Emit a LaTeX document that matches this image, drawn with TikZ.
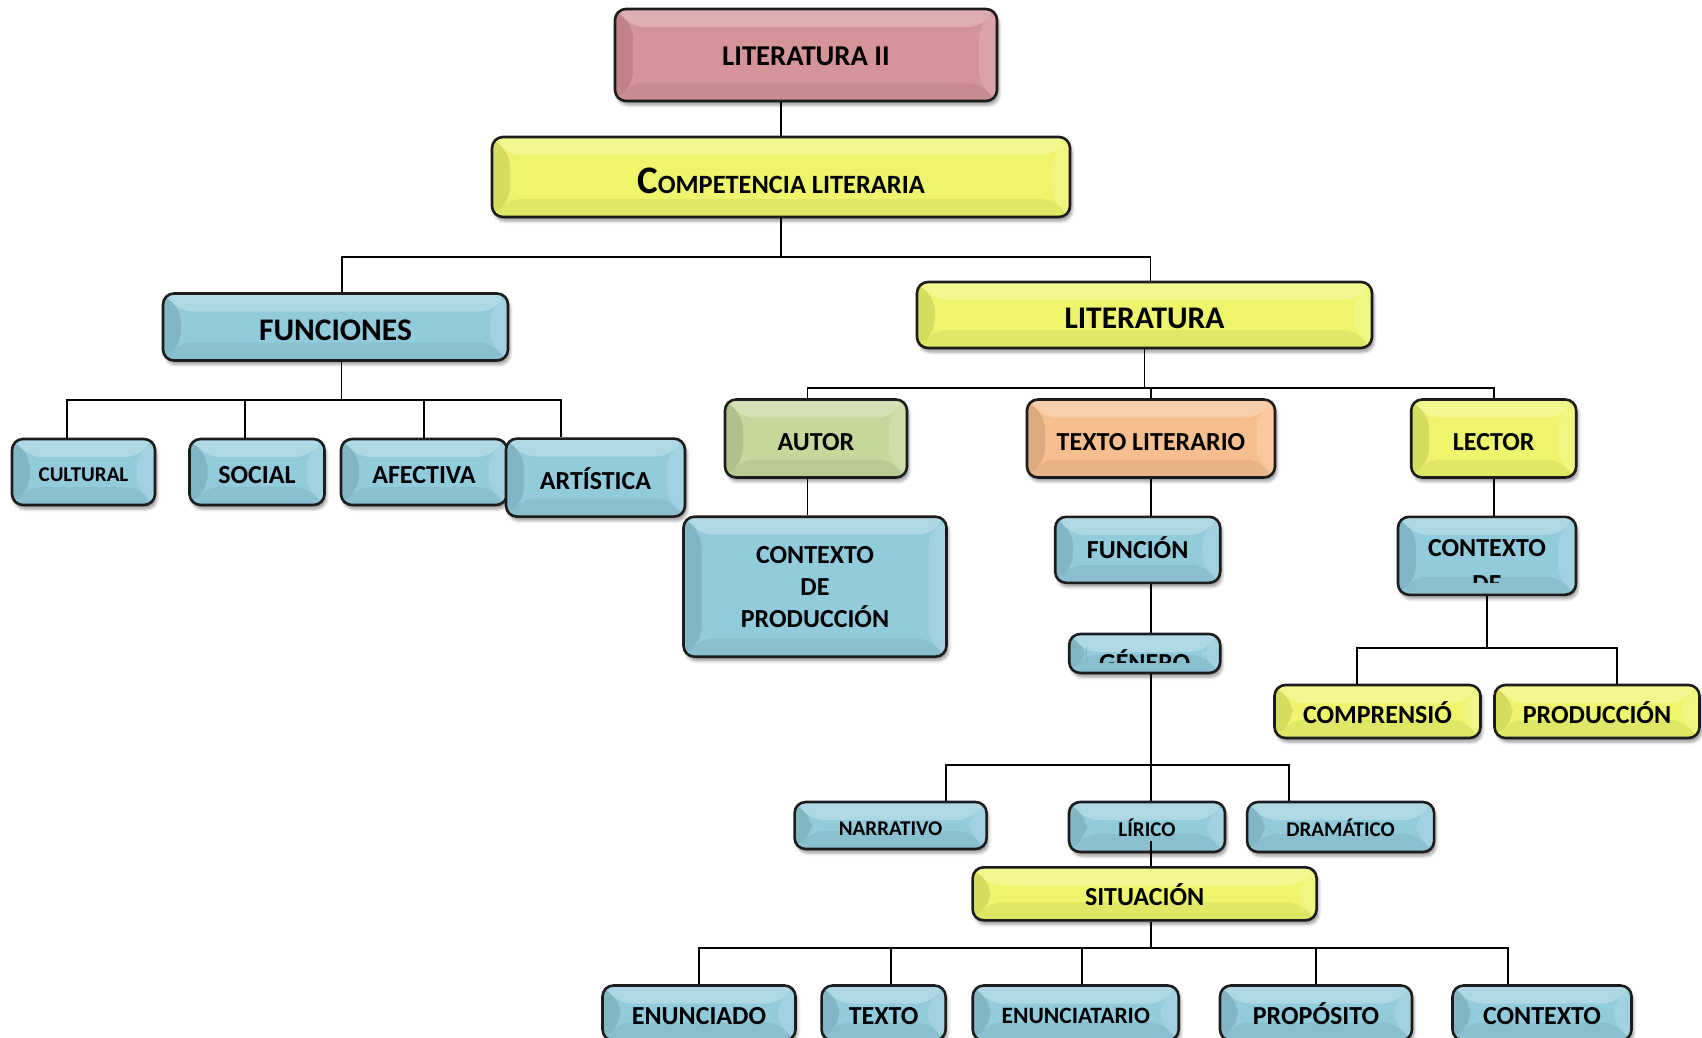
\documentclass[tikz,border=0pt]{standalone}
\usepackage{fontspec}
\setmainfont{Carlito}
\usepackage{tikz}
\usetikzlibrary{shadows.blur}
\definecolor{BoxBlue}{HTML}{92CBDC}
\definecolor{BoxYellow}{HTML}{EEF56C}
\definecolor{BoxPink}{HTML}{D59498}
\definecolor{BoxGreen}{HTML}{C6D89C}
\definecolor{BoxOrange}{HTML}{F7BF8F}
\definecolor{Outline}{HTML}{1C1C1C}

\begin{document}
\begin{tikzpicture}[x=1pt,y=-1pt,
    bevel/.style={path picture={
        \path (path picture bounding box.north west) coordinate (bnw)
              (path picture bounding box.north east) coordinate (bne)
              (path picture bounding box.south west) coordinate (bsw)
              (path picture bounding box.south east) coordinate (bse);
        \fill[white,opacity=.25] (bnw) -- (bne) -- ([shift={(-18pt,-18pt)}]bne) -- ([shift={(18pt,-18pt)}]bnw) -- cycle;
        \fill[black,opacity=.10] (bnw) -- (bsw) -- ([shift={(18pt,18pt)}]bsw) -- ([shift={(18pt,-18pt)}]bnw) -- cycle;
        \fill[black,opacity=.06] (bsw) -- (bse) -- ([shift={(-18pt,18pt)}]bse) -- ([shift={(18pt,18pt)}]bsw) -- cycle;
        \fill[white,opacity=.15] (bne) -- (bse) -- ([shift={(-18pt,18pt)}]bse) -- ([shift={(-18pt,-18pt)}]bne) -- cycle;
    }},
    shell/.style={draw=Outline, line width=2.6pt, rounded corners=11pt, inner sep=0pt, align=center,
        blur shadow={shadow xshift=2pt, shadow yshift=-4pt, shadow blur radius=3pt, shadow opacity=40},
        bevel, font=\bfseries\fontsize{26}{32}\selectfont},
    box/.style={shell, text height=23pt, text depth=0pt},
    bluebox/.style={box, fill=BoxBlue},
    yellowbox/.style={box, fill=BoxYellow},
    pinkbox/.style={box, fill=BoxPink},
    greenbox/.style={box, fill=BoxGreen},
    orangebox/.style={box, fill=BoxOrange},
    bigtext/.style={font=\bfseries\fontsize{31.5}{36}\selectfont, text height=27pt},
    smalltext/.style={font=\bfseries\fontsize{21}{25}\selectfont, text height=19pt},
    boxtext/.style={inner sep=0pt, anchor=base, font=\bfseries\fontsize{26}{32}\selectfont},
    link/.style={draw=black, line width=1.8pt}]

    \clip (0,0) rectangle (1702,1038);

    \node[pinkbox, minimum width=382pt, minimum height=92pt, font=\bfseries\fontsize{28.7}{33}\selectfont, text height=21pt] (lit2) at (806,55) {LITERATURA II};
    \node[yellowbox, minimum width=578pt, minimum height=80pt, text height=33pt] (comp) at (781,177) {{\fontsize{39}{40}\selectfont C}\fontsize{26.4}{30}\selectfont OMPETENCIA LITERARIA};
    \node[bluebox, bigtext, minimum width=345pt, minimum height=67pt] (funciones) at (335.5,327) {FUNCIONES};
    \node[yellowbox, bigtext, minimum width=455pt, minimum height=66pt] (literatura) at (1144.5,315) {LITERATURA};

    \node[bluebox, smalltext, minimum width=143pt, minimum height=66pt] (cultural) at (83.5,472) {CULTURAL};
    \node[bluebox, minimum width=135pt, minimum height=66pt] (social) at (257,472) {SOCIAL};
    \node[bluebox, minimum width=166pt, minimum height=66pt] (afectiva) at (424,472) {AFECTIVA};
    \node[bluebox, minimum width=179pt, minimum height=78pt] (artistica) at (595.5,477.6) {ARTÍSTICA};

    \node[greenbox, minimum width=182pt, minimum height=78pt] (autor) at (816,438.5) {AUTOR};
    \node[orangebox, minimum width=248pt, minimum height=78pt] (textolit) at (1151,438.5) {TEXTO LITERARIO};
    \node[yellowbox, minimum width=165pt, minimum height=78pt] (lector) at (1493.7,438.5) {LECTOR};

    \node[shell, fill=BoxBlue, minimum width=263pt, minimum height=140pt] (ctxprod) at (815,586.7) {CONTEXTO\\DE\\PRODUCCIÓN};
    \node[bluebox, minimum width=165pt, minimum height=66pt, text height=18pt] (funcion) at (1137.7,549.8) {FUNCIÓN};
    \node[bluebox, minimum width=178pt, minimum height=78pt] (ctxde) at (1487,555.8) {};
    \begin{scope}
        \clip ([yshift=14pt]ctxde.south west) rectangle (ctxde.north east);
        \node[boxtext] (ctxdeA) at (1487,556.7) {CONTEXTO};
        \node[boxtext] (ctxdeB) at (1487,592.7) {DE};
    \end{scope}
    \node[bluebox, minimum width=151pt, minimum height=39pt] (genero) at (1144.7,653.5) {};
    \begin{scope}
        \clip ([yshift=12pt]genero.south west) rectangle (genero.north east);
        \node[boxtext] (generotext) at (1144.7,671.7) {GÉNERO};
    \end{scope}

    \node[yellowbox, minimum width=206pt, minimum height=53pt] (comprensio) at (1377.5,711.5) {COMPRENSIÓ};
    \node[yellowbox, minimum width=205pt, minimum height=53pt] (produccion) at (1597,711.5) {PRODUCCIÓN};

    \node[bluebox, smalltext, minimum width=192pt, minimum height=47pt] (narrativo) at (890.6,825.5) {NARRATIVO};
    \node[bluebox, smalltext, minimum width=156pt, minimum height=50pt] (lirico) at (1147,827) {LÍRICO};
    \node[bluebox, smalltext, minimum width=187pt, minimum height=50pt] (dramatico) at (1340.6,827) {DRAMÁTICO};
    \node[yellowbox, minimum width=344pt, minimum height=53pt] (situacion) at (1144.6,893.8) {SITUACIÓN};

    \node[bluebox, minimum width=193pt, minimum height=55pt] (enunciado) at (699,1013) {ENUNCIADO};
    \node[bluebox, minimum width=124pt, minimum height=55pt] (texto) at (883.6,1013) {TEXTO};
    \node[bluebox, minimum width=206pt, minimum height=55pt, font=\bfseries\fontsize{23.5}{28}\selectfont, text height=20pt] (enunciatario) at (1075.7,1013) {ENUNCIATARIO};
    \node[bluebox, minimum width=192pt, minimum height=55pt] (proposito) at (1316,1013) {PROPÓSITO};
    \node[bluebox, minimum width=179pt, minimum height=55pt] (contexto) at (1542,1013) {CONTEXTO};

    \draw[link] (lit2.south -| comp.north) -- (comp.north);
    \draw[link] (comp.south) -- ++(0,39) coordinate (cbus);
    \draw[link] ([xshift=6.5pt]funciones.north) |- (cbus) -| ([xshift=6pt]literatura.north);

    \draw[link] ([xshift=6pt]funciones.south) -- ++(0,38.5) coordinate (fbus);
    \draw[link] ([xshift=-16.5pt]cultural.north) |- (fbus) -| ([xshift=-34.5pt]artistica.north);
    \draw[link] ([xshift=-12pt]social.north) |- (fbus);
    \draw[link] (afectiva.north) |- (fbus);

    \draw[link] (literatura.south) -- ++(0,38.5) coordinate (lbus);
    \draw[link] ([xshift=-8.5pt]autor.north) |- (lbus) -| (lector.north);
    \draw[link] (textolit.north) |- (lbus);
    \coordinate (autordrop) at ([xshift=-8.5pt]autor.south);
    \draw[link] (autordrop) -- (autordrop |- ctxprod.north);

    \draw[link] (textolit.south) -- (textolit.south |- funcion.north);
    \draw[link] (funcion.south -| textolit.south) -- (genero.north -| textolit.south);
    \draw[link] (genero.south -| textolit.south) -- ++(0,91) coordinate (gbus);
    \draw[link] ([xshift=55pt]narrativo.north) |- (gbus) -| ([xshift=-52pt]dramatico.north);
    \draw[link] (lirico.north -| gbus) -- (gbus);
    \coordinate (liricodrop) at ([yshift=-14pt]lirico.center);
    \draw[link] (liricodrop -| gbus) -- (situacion.north -| gbus);

    \draw[link] (situacion.south -| gbus) -- ++(0,26) coordinate (sbus);
    \draw[link] (enunciado.north) |- (sbus) -| ([xshift=-34pt]contexto.north);
    \draw[link] ([xshift=7.5pt]texto.north) |- (sbus);
    \draw[link] ([xshift=6.5pt]enunciatario.north) |- (sbus);
    \draw[link] (proposito.north) |- (sbus);

    \draw[link] (lector.south) -- (lector.south |- ctxde.north);
    \draw[link] (ctxde.south) -- ++(0,52) coordinate (rbus);
    \draw[link] ([xshift=-20.5pt]comprensio.north) |- (rbus) -| ([xshift=20pt]produccion.north);
\end{tikzpicture}
\end{document}
